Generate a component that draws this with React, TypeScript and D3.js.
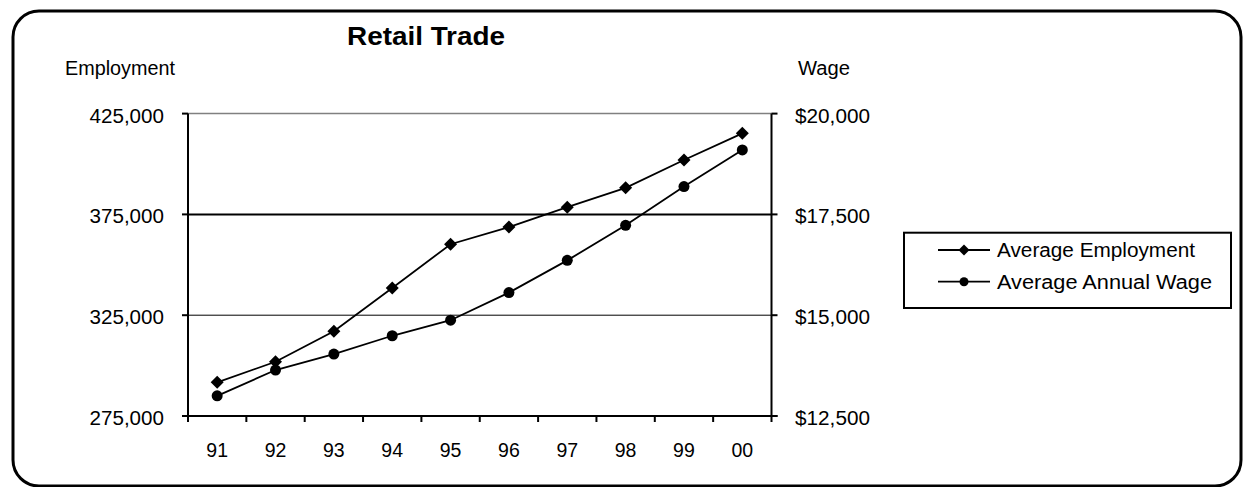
import React from "react";
import * as d3 from "d3";

const years = ["91", "92", "93", "94", "95", "96", "97", "98", "99", "00"];
const employment = [291700, 301900, 317000, 338500, 360200, 368700, 378600, 388200, 402000, 415200];
const wage = [13000, 13640, 14035, 14490, 14876, 15560, 16360, 17230, 18190, 19100];
const empTicks = [275000, 325000, 375000, 425000];
const wageTicks = [12500, 15000, 17500, 20000];
const seriesNames = ["Average Employment", "Average Annual Wage"];

const W = 1244;
const H = 487;
const FONT = "'Liberation Sans', Arial, sans-serif";

export default function App() {
  const left = 188;
  const right = 771.5;
  const top = 113.6;
  const bottom = 416;

  const x = d3.scaleBand<string>().domain(years).range([left, right]);
  const yL = d3.scaleLinear().domain([275000, 425000]).range([bottom, top]);
  const yR = d3.scaleLinear().domain([12500, 20000]).range([bottom, top]);
  const cx = (d: string) => (x(d) as number) + x.bandwidth() / 2;

  const fmtL = d3.format(",");
  const fmtR = (v: number) => "$" + d3.format(",")(v);

  const empLine = d3
    .line<number>()
    .x((_, i) => cx(years[i]))
    .y((v) => yL(v))(employment) as string;
  const wageLine = d3
    .line<number>()
    .x((_, i) => cx(years[i]))
    .y((v) => yR(v))(wage) as string;

  const diamond = (px: number, py: number, r: number) =>
    `M${px},${py - r}L${px + r},${py}L${px},${py + r}L${px - r},${py}Z`;

  const boundaries = [...years.map((d) => x(d) as number), right];

  const legX = 904;
  const legY = 232.7;
  const legW = 327;
  const legH = 75.3;
  const legRows = [250, 281.7];

  return (
    <svg
      width={W}
      height={H}
      style={{ position: "absolute", left: 0, top: 0, background: "#fff" }}
      fontFamily={FONT}
    >
      <rect x={0} y={0} width={W} height={H} fill="#fff" />
      {/* outer rounded border */}
      <rect x={13} y={11} width={1228} height={475} rx={26} ry={26} fill="none" stroke="#000" strokeWidth={3} />

      {/* title */}
      <text x={426} y={44.5} textAnchor="middle" fontSize={25} fontWeight="bold" textLength={158} lengthAdjust="spacingAndGlyphs">
        Retail Trade
      </text>
      <text x={65} y={75} fontSize={19.5} textLength={110} lengthAdjust="spacingAndGlyphs">Employment</text>
      <text x={798} y={75} fontSize={19.5} textLength={52} lengthAdjust="spacingAndGlyphs">Wage</text>

      {/* plot top border */}
      <line x1={left} x2={right} y1={top} y2={top} stroke="#808080" strokeWidth={1.5} />

      {/* gridlines */}
      {empTicks
        .filter((t) => t !== 275000 && t !== 425000)
        .map((t) => (
          <line key={t} x1={left} x2={right} y1={yL(t)} y2={yL(t)} stroke="#000" strokeWidth={t === 375000 ? 2 : 1} />
        ))}

      {/* axes */}
      <line x1={left} x2={left} y1={top} y2={bottom} stroke="#000" strokeWidth={2} />
      <line x1={right} x2={right} y1={top} y2={bottom} stroke="#000" strokeWidth={2} />
      <line x1={left - 6} x2={right + 6} y1={bottom} y2={bottom} stroke="#000" strokeWidth={2} />

      {/* left ticks/labels */}
      {empTicks.map((t) => (
        <g key={t}>
          <line x1={left - 6} x2={left} y1={yL(t)} y2={yL(t)} stroke="#000" strokeWidth={2} />
          <text x={164} y={yL(t) + 9} textAnchor="end" fontSize={19.5} textLength={74.5} lengthAdjust="spacingAndGlyphs">
            {fmtL(t)}
          </text>
        </g>
      ))}
      {/* right ticks/labels */}
      {wageTicks.map((t) => (
        <g key={t}>
          <line x1={right} x2={right + 6} y1={yR(t)} y2={yR(t)} stroke="#000" strokeWidth={2} />
          <text x={795} y={yR(t) + 9} textAnchor="start" fontSize={19.5} textLength={75} lengthAdjust="spacingAndGlyphs">
            {fmtR(t)}
          </text>
        </g>
      ))}
      {/* x ticks */}
      {boundaries.map((b, i) => (
        <line key={i} x1={b} x2={b} y1={bottom} y2={bottom + 6} stroke="#000" strokeWidth={2} />
      ))}
      {years.map((d) => (
        <text key={d} x={cx(d)} y={457} textAnchor="middle" fontSize={19.5}>
          {d}
        </text>
      ))}

      {/* series */}
      <path d={empLine} fill="none" stroke="#000" strokeWidth={1.8} />
      <path d={wageLine} fill="none" stroke="#000" strokeWidth={1.8} />
      {employment.map((v, i) => (
        <path key={"e" + i} d={diamond(cx(years[i]), yL(v), 6.5)} fill="#000" />
      ))}
      {wage.map((v, i) => (
        <circle key={"w" + i} cx={cx(years[i])} cy={yR(v)} r={5.5} fill="#000" />
      ))}

      {/* legend */}
      <rect x={legX} y={legY} width={legW} height={legH} fill="#fff" stroke="#000" strokeWidth={2} />
      {seriesNames.map((name, i) => (
        <g key={name}>
          <line x1={938} x2={990} y1={legRows[i]} y2={legRows[i]} stroke="#000" strokeWidth={1.8} />
          {i === 0 ? (
            <path d={diamond(964, legRows[i], 5.5)} fill="#000" />
          ) : (
            <circle cx={964} cy={legRows[i]} r={4.5} fill="#000" />
          )}
          <text x={997} y={legRows[i] + 7} fontSize={19.5} textLength={i === 0 ? 198 : 215} lengthAdjust="spacingAndGlyphs">
            {name}
          </text>
        </g>
      ))}
    </svg>
  );
}
